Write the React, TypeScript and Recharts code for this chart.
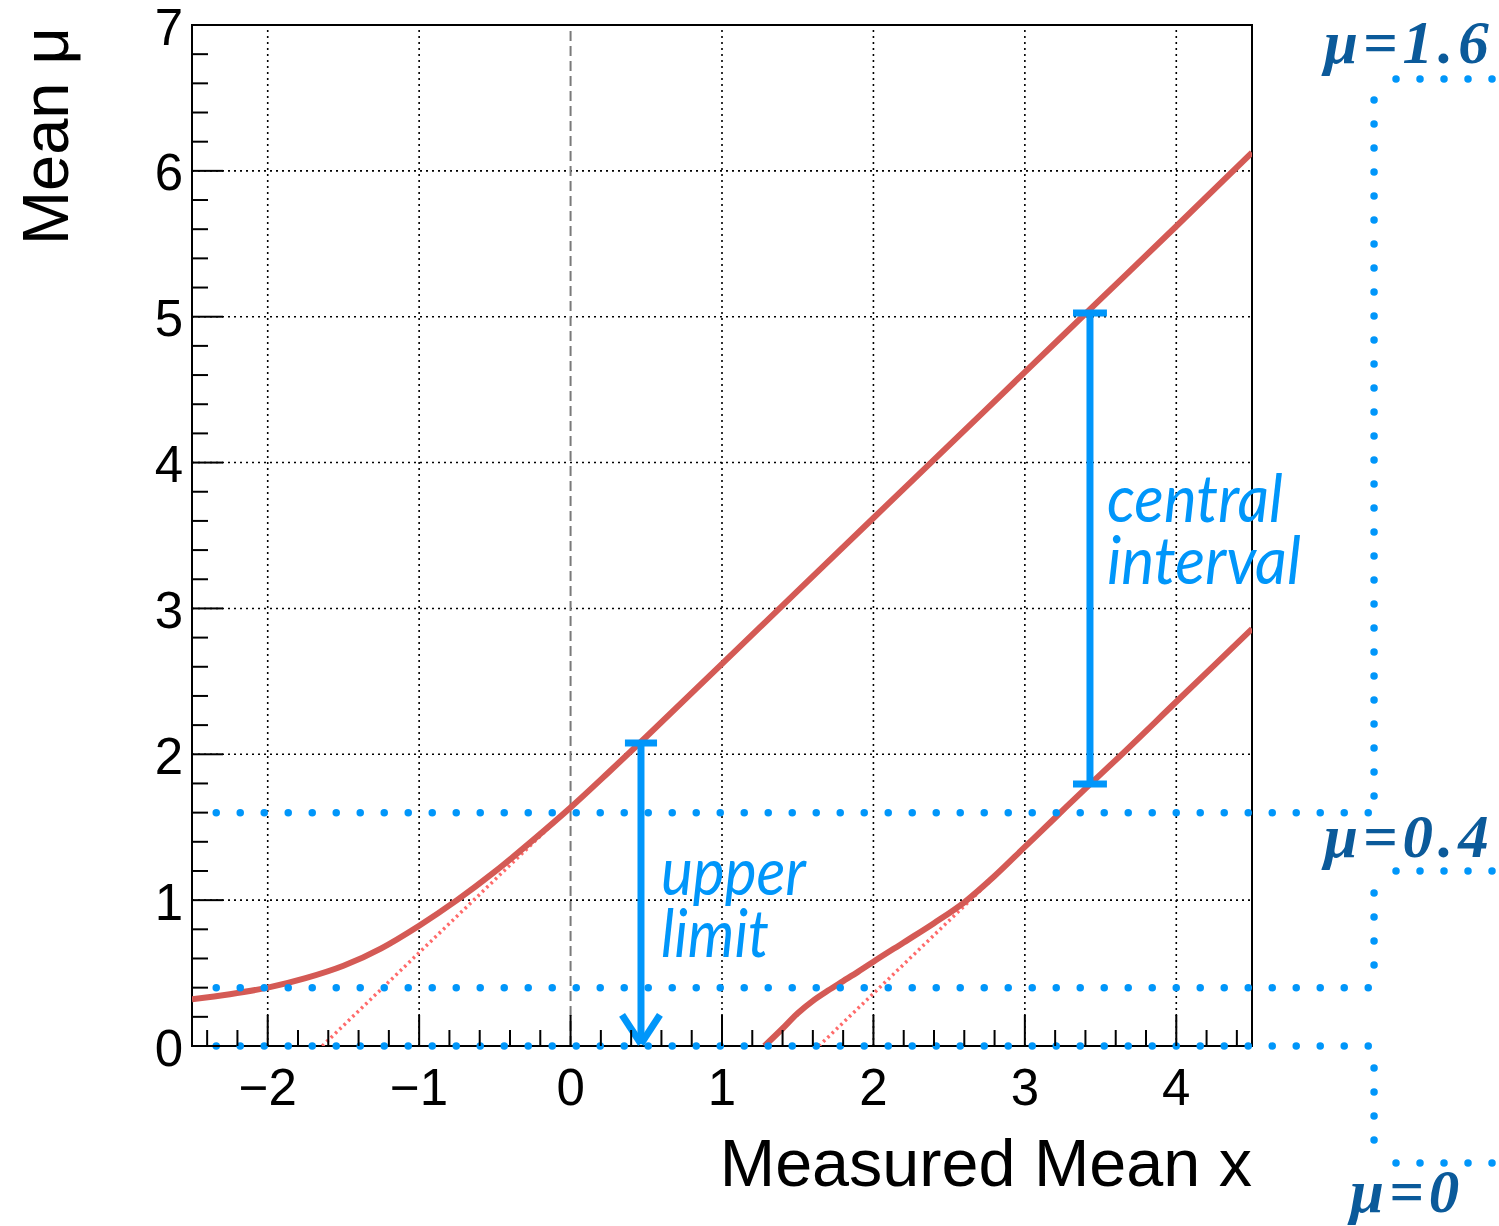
import React from 'react';
import {
  ComposedChart,
  Line,
  XAxis,
  YAxis,
  ReferenceLine,
  ReferenceArea,
  ReferenceDot
} from 'recharts';

// confidence belt: upper edge (mu vs measured x)
const upperX = [-2.5, -2.25, -2, -1.75, -1.5, -1.25, -1, -0.75, -0.5, -0.25, 0, 0.25, 0.5, 1, 1.5, 2, 2.5, 3, 3.5, 4, 4.5];
const upperMu = [0.32, 0.355, 0.4, 0.465, 0.55, 0.67, 0.825, 1.0, 1.195, 1.41, 1.635, 1.875, 2.12, 2.62, 3.12, 3.62, 4.12, 4.62, 5.12, 5.62, 6.125];

// lower edge
const lowerX = [1.28, 1.4, 1.5, 1.6, 1.7, 1.8, 1.9, 2, 2.2, 2.4, 2.6, 2.8, 3, 3.2, 3.4, 3.6, 4, 4.5];
const lowerMu = [0, 0.12, 0.225, 0.31, 0.38, 0.445, 0.51, 0.578, 0.71, 0.842, 0.985, 1.165, 1.365, 1.565, 1.765, 1.96, 2.36, 2.86];

// plain gaussian limits (dotted)
const upperGaussX = [-1.64, -0.1];
const upperGaussMu = [0, 1.54];
const lowerGaussX = [1.64, 3.1];
const lowerGaussMu = [0, 1.46];

// axis ticks
const xTicks = [-2.4, -2.2, -2, -1.8, -1.6, -1.4, -1.2, -1, -0.8, -0.6, -0.4, -0.2, 0, 0.2, 0.4, 0.6, 0.8, 1, 1.2, 1.4, 1.6, 1.8, 2, 2.2, 2.4, 2.6, 2.8, 3, 3.2, 3.4, 3.6, 3.8, 4, 4.2, 4.4];
const yTicks = [0, 0.2, 0.4, 0.6, 0.8, 1, 1.2, 1.4, 1.6, 1.8, 2, 2.2, 2.4, 2.6, 2.8, 3, 3.2, 3.4, 3.6, 3.8, 4, 4.2, 4.4, 4.6, 4.8, 5, 5.2, 5.4, 5.6, 5.8, 6, 6.2, 6.4, 6.6, 6.8, 7];
const gridX = [-2, -1, 1, 2, 3, 4];
const gridY = [1, 2, 3, 4, 5, 6];

// mu levels drawn as blue dotted rows
const levelMu = [1.6, 0.4, 0];
const levelLabels = ['μ=1.6', 'μ=0.4', 'μ=0'];

// the two intervals
const upperLimit = { x: 0.465, lo: 0, hi: 2.077 };
const central = { x: 3.43, lo: 1.796, hi: 5.025 };

const toPoints = (xs: number[], ys: number[]) => xs.map((x, i) => ({ x, mu: ys[i] }));

const SANS = '"Liberation Sans", Arial, Helvetica, sans-serif';
const BLUE = '#0096fa';
const DARK_BLUE = '#0b5a9a';
const RED = '#d45a55';

const isMajor = (v: number) => Math.abs(v - Math.round(v)) < 1e-6;
const fmt = (v: number) => {
  const r = Math.round(v);
  return r < 0 ? '\u2212' + Math.abs(r) : String(r);
};

function XTick(props: any) {
  const { x, y, payload } = props;
  const major = isMajor(payload.value);
  return (
    <g>
      <line x1={x} x2={x} y1={y} y2={y - (major ? 31 : 16)} stroke="#000" strokeWidth={2} />
      {major && (
        <text x={x} y={y + 41} textAnchor="middle" dominantBaseline="central" fontFamily={SANS} fontSize={51} fill="#000">
          {fmt(payload.value)}
        </text>
      )}
    </g>
  );
}

function YTick(props: any) {
  const { x, y, payload } = props;
  const major = isMajor(payload.value);
  return (
    <g>
      <line x1={x} x2={x + (major ? 31 : 16)} y1={y} y2={y} stroke="#000" strokeWidth={2} />
      {major && (
        <text x={x - 9} y={y + 2} textAnchor="end" dominantBaseline="central" fontFamily={SANS} fontSize={51} fill="#000">
          {fmt(payload.value)}
        </text>
      )}
    </g>
  );
}

const XTitle = (props: any) => {
  const { viewBox } = props;
  return (
    <text x={viewBox.x + viewBox.width} y={viewBox.y + 140} textAnchor="end" fontFamily={SANS} fontSize={66.5} fill="#000">
      Measured Mean x
    </text>
  );
};

const YTitle = (props: any) => {
  const { viewBox } = props;
  const x = viewBox.x + 68;
  const y = viewBox.y + 2;
  return (
    <text x={x} y={y} transform={`rotate(-90 ${x} ${y})`} textAnchor="end" fontFamily={SANS} fontSize={65} fill="#000">
      Mean μ
    </text>
  );
};

// two-line italic annotation, one text element
const blueText = (lines: string[], widths: number[]) => (p: any) => (
  <text x={p.cx} y={p.cy} fontFamily="Lato, 'Open Sans', sans-serif" fontStyle="italic" fontSize={66} fill={BLUE}>
    {lines.map((t, i) => (
      <tspan key={t} x={p.cx} dy={i === 0 ? 0 : 62} textLength={widths[i]} lengthAdjust="spacingAndGlyphs">
        {t}
      </tspan>
    ))}
  </text>
);

const muText = (label: string) => (p: any) => (
  <text
    x={p.cx}
    y={p.cy}
    fontFamily="'Liberation Serif', 'DejaVu Serif', serif"
    fontStyle="italic"
    fontWeight="bold"
    fontSize={61}
    letterSpacing={5}
    fill={DARK_BLUE}
  >
    {label}
  </text>
);

const dotted = {
  stroke: BLUE,
  strokeWidth: 7.5,
  strokeDasharray: '0 24',
  strokeLinecap: 'round' as const,
  ifOverflow: 'visible' as const,
  zIndex: 700
};

export default function App() {
  const upperData = toPoints(upperX, upperMu);
  const lowerData = toPoints(lowerX, lowerMu);
  const upperGauss = toPoints(upperGaussX, upperGaussMu);
  const lowerGauss = toPoints(lowerGaussX, lowerGaussMu);

  // bracket column and label anchors on the right side
  const colX = 5.306;
  const colSegments = [[6.486, 1.7], [1.049, 0.542], [-0.151, -0.651]];
  const stubY = [6.63, 1.2, -0.802];
  const labelPos = [
    { x: 4.975, y: 6.739 },
    { x: 4.975, y: 1.296 },
    { x: 5.147, y: -1.138 }
  ];

  return (
    <div style={{ position: 'absolute', left: 0, top: 0, width: 1499, height: 1226, background: '#fff' }}>
      <ComposedChart width={1499} height={1226} margin={{ top: 25, right: 247, bottom: 0, left: 0 }}>
        <XAxis
          type="number"
          dataKey="x"
          domain={[-2.5, 4.5]}
          allowDataOverflow
          ticks={xTicks}
          interval={0}
          tickSize={0}
          tickMargin={0}
          axisLine={false}
          tickLine={false}
          tick={<XTick />}
          height={180}
          label={<XTitle />}
        />
        <YAxis
          type="number"
          dataKey="mu"
          domain={[0, 7]}
          allowDataOverflow
          ticks={yTicks}
          interval={0}
          tickSize={0}
          tickMargin={0}
          axisLine={false}
          tickLine={false}
          tick={<YTick />}
          width={192}
          label={<YTitle />}
        />

        {gridX.map(v => (
          <ReferenceLine key={'gx' + v} x={v} stroke="#000" strokeWidth={1.6} strokeDasharray="2 4" zIndex={50} />
        ))}
        {gridY.map(v => (
          <ReferenceLine key={'gy' + v} y={v} stroke="#000" strokeWidth={1.6} strokeDasharray="2 4" zIndex={50} />
        ))}
        <ReferenceLine x={0} stroke="#7a7a7a" strokeWidth={2} strokeDasharray="10 5" zIndex={50} />
        <ReferenceArea x1={-2.5} x2={4.5} y1={0} y2={7} fill="none" fillOpacity={0} stroke="#000" strokeWidth={2} ifOverflow="visible" zIndex={60} />

        <Line data={upperGauss} dataKey="mu" type="linear" stroke="#ff6a6a" strokeWidth={3.5} strokeDasharray="2.5 3.5" dot={false} activeDot={false} isAnimationActive={false} />
        <Line data={lowerGauss} dataKey="mu" type="linear" stroke="#ff6a6a" strokeWidth={3.5} strokeDasharray="2.5 3.5" dot={false} activeDot={false} isAnimationActive={false} />
        <Line data={upperData} dataKey="mu" type="monotone" stroke={RED} strokeWidth={6} dot={false} activeDot={false} isAnimationActive={false} />
        <Line data={lowerData} dataKey="mu" type="monotone" stroke={RED} strokeWidth={6} dot={false} activeDot={false} isAnimationActive={false} />

        {levelMu.map(m => (
          <ReferenceLine key={'row' + m} segment={[{ x: -2.34, y: m }, { x: 5.27, y: m }]} {...dotted} />
        ))}
        {colSegments.map(([a, b]) => (
          <ReferenceLine key={'col' + a} segment={[{ x: colX, y: a }, { x: colX, y: b }]} {...dotted} />
        ))}
        {stubY.map(m => (
          <ReferenceLine key={'stub' + m} segment={[{ x: 5.451, y: m }, { x: 6.095, y: m }]} {...dotted} />
        ))}
        {levelLabels.map((t, i) => (
          <ReferenceDot key={t} x={labelPos[i].x} y={labelPos[i].y} r={0} ifOverflow="visible" zIndex={800} shape={muText(t)} />
        ))}

        {/* upper limit arrow */}
        <ReferenceLine segment={[{ x: upperLimit.x, y: upperLimit.hi }, { x: upperLimit.x, y: upperLimit.lo + 0.02 }]} stroke={BLUE} strokeWidth={7} ifOverflow="visible" zIndex={700} />
        <ReferenceLine segment={[{ x: 0.359, y: upperLimit.hi }, { x: 0.571, y: upperLimit.hi }]} stroke={BLUE} strokeWidth={7} ifOverflow="visible" zIndex={700} />
        <ReferenceLine segment={[{ x: 0.34, y: 0.213 }, { x: upperLimit.x, y: 0.014 }]} stroke={BLUE} strokeWidth={7} ifOverflow="visible" zIndex={700} />
        <ReferenceLine segment={[{ x: 0.59, y: 0.213 }, { x: upperLimit.x, y: 0.014 }]} stroke={BLUE} strokeWidth={7} ifOverflow="visible" zIndex={700} />

        {/* central interval */}
        <ReferenceLine segment={[{ x: central.x, y: central.lo }, { x: central.x, y: central.hi }]} stroke={BLUE} strokeWidth={7} ifOverflow="visible" zIndex={700} />
        <ReferenceLine segment={[{ x: 3.318, y: central.hi }, { x: 3.542, y: central.hi }]} stroke={BLUE} strokeWidth={7} ifOverflow="visible" zIndex={700} />
        <ReferenceLine segment={[{ x: 3.318, y: central.lo }, { x: 3.542, y: central.lo }]} stroke={BLUE} strokeWidth={7} ifOverflow="visible" zIndex={700} />

        <ReferenceDot x={0.597} y={1.035} r={0} ifOverflow="visible" zIndex={800} shape={blueText(['upper', 'limit'], [145, 108])} />
        <ReferenceDot x={3.542} y={3.592} r={0} ifOverflow="visible" zIndex={800} shape={blueText(['central', 'interval'], [176, 194])} />
      </ComposedChart>
    </div>
  );
}
